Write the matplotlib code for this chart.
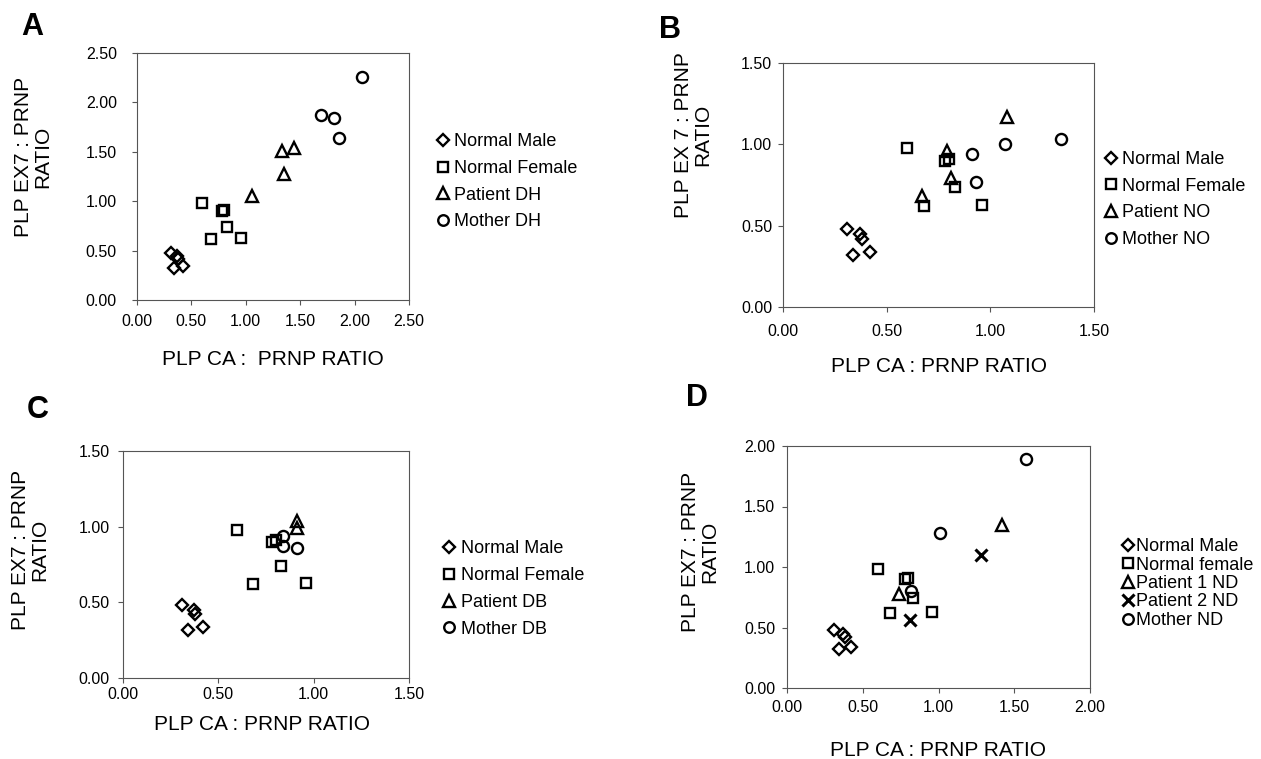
import numpy as np
import matplotlib
matplotlib.use('Agg')
import matplotlib.pyplot as plt
from matplotlib.ticker import FormatStrFormatter

plt.rcParams['font.family'] = ['Liberation Sans', 'DejaVu Sans']

W, H = 1261, 759

# shared control groups (same in every panel)
male_x = [0.31, 0.37, 0.38, 0.34, 0.42]
male_y = [0.48, 0.45, 0.42, 0.32, 0.34]
female_x = [0.60, 0.78, 0.80, 0.83, 0.68, 0.96]
female_y = [0.98, 0.90, 0.91, 0.74, 0.62, 0.63]

# panel A
dh_pat_x = [1.33, 1.44, 1.35, 1.06]
dh_pat_y = [1.51, 1.54, 1.28, 1.05]
dh_mom_x = [2.07, 1.69, 1.81, 1.86]
dh_mom_y = [2.26, 1.87, 1.84, 1.64]

# panel B
no_pat_x = [0.79, 0.81, 0.67, 1.08]
no_pat_y = [0.96, 0.79, 0.68, 1.17]
no_mom_x = [0.91, 0.93, 1.07, 1.34]
no_mom_y = [0.94, 0.77, 1.00, 1.03]

# panel C
db_pat_x = [0.91, 0.91]
db_pat_y = [1.04, 0.99]
db_mom_x = [0.84, 0.84, 0.91]
db_mom_y = [0.94, 0.87, 0.86]

# panel D
nd_pat1_x = [0.74, 1.42]
nd_pat1_y = [0.78, 1.35]
nd_pat2_x = [1.28, 0.81]
nd_pat2_y = [1.10, 0.56]
nd_mom_x = [1.58, 1.01, 0.82]
nd_mom_y = [1.89, 1.28, 0.80]

STYLE = {
    'male': dict(marker='D', ms=6.3),
    'female': dict(marker='s', ms=7.5),
    'patient': dict(marker='^', ms=8.5),
    'patient2': dict(marker='x', ms=8.5, mew=2.2),
    'mother': dict(marker='o', ms=8),
}


def px_box(left, right, top, bottom):
    return [left / W, 1 - bottom / H, (right - left) / W, (bottom - top) / H]


def fx(x):
    return x / W


def fy(y):
    return 1 - y / H


def draw_panel(fig, box, lim, series, ylab, xlab, ylab_pos, xlab_pos,
               xpad, ypad, leg_pos, leg_spacing, leg_tpad, letter, letter_pos):
    ax = fig.add_axes(px_box(*box))
    for x, y, kind, label in series:
        st = dict(mew=1.7, mfc='none', mec='black', ls='none')
        st.update(STYLE[kind])
        if kind == 'patient2':
            st.pop('mfc')
            st['color'] = 'black'
        ax.plot(x, y, label=label, clip_on=False, **st)
    ticks = np.arange(0, lim + 0.01, 0.5)
    ax.set_xlim(0, lim)
    ax.set_ylim(0, lim)
    ax.set_xticks(ticks)
    ax.set_yticks(ticks)
    ax.xaxis.set_major_formatter(FormatStrFormatter('%.2f'))
    ax.yaxis.set_major_formatter(FormatStrFormatter('%.2f'))
    ax.tick_params(direction='out', length=3.6, width=0.8, color='#555555',
                   labelsize=11.5)
    ax.tick_params(axis='x', pad=xpad)
    ax.tick_params(axis='y', pad=ypad)
    for sp in ax.spines.values():
        sp.set_linewidth(0.8)
        sp.set_color('#555555')

    ax.set_xlabel(xlab, fontsize=15, va='center')
    ax.xaxis.set_label_coords(fx(xlab_pos[0]), fy(xlab_pos[1]),
                              transform=fig.transFigure)
    ax.set_ylabel(ylab, fontsize=15, va='center', ha='center',
                  multialignment='center', linespacing=1.0)
    ax.yaxis.set_label_coords(fx(ylab_pos[0]), fy(ylab_pos[1]),
                              transform=fig.transFigure)

    ax.legend(loc='center left', bbox_to_anchor=(fx(leg_pos[0]), fy(leg_pos[1])),
              bbox_transform=fig.transFigure, frameon=False, fontsize=13,
              handlelength=0.7, handletextpad=leg_tpad, labelspacing=leg_spacing,
              borderpad=0, borderaxespad=0, markerscale=0.95)

    fig.text(fx(letter_pos[0]), fy(letter_pos[1]), letter, fontsize=22,
             fontweight='bold', ha='center', va='center')
    return ax


fig = plt.figure(figsize=(W / 100, H / 100), dpi=100)

draw_panel(fig, (137, 409, 53, 300), 2.5,
           [(male_x, male_y, 'male', 'Normal Male'),
            (female_x, female_y, 'female', 'Normal Female'),
            (dh_pat_x, dh_pat_y, 'patient', 'Patient DH'),
            (dh_mom_x, dh_mom_y, 'mother', 'Mother DH')],
           'PLP EX7 : PRNP\nRATIO', 'PLP CA :  PRNP RATIO',
           (33, 157), (273, 359), 6.5, 10.8,
           (436.7, 181.7), 0.54, 0.25, 'A', (32.5, 26.7))

draw_panel(fig, (783, 1094, 63, 307), 1.5,
           [(male_x, male_y, 'male', 'Normal Male'),
            (female_x, female_y, 'female', 'Normal Female'),
            (no_pat_x, no_pat_y, 'patient', 'Patient NO'),
            (no_mom_x, no_mom_y, 'mother', 'Mother NO')],
           'PLP EX 7 : PRNP\nRATIO', 'PLP CA : PRNP RATIO',
           (693, 135), (938.6, 366), 8.6, 4.3,
           (1104.7, 199.5), 0.54, 0.25, 'B', (670, 30))

draw_panel(fig, (123, 409, 451, 678), 1.5,
           [(male_x, male_y, 'male', 'Normal Male'),
            (female_x, female_y, 'female', 'Normal Female'),
            (db_pat_x, db_pat_y, 'patient', 'Patient DB'),
            (db_mom_x, db_mom_y, 'mother', 'Mother DB')],
           'PLP EX7 : PRNP\nRATIO', 'PLP CA : PRNP RATIO',
           (30, 550), (262, 725), 3, 5.8,
           (442.7, 589), 0.54, 0.3, 'C', (38, 410))

draw_panel(fig, (787, 1090, 446, 688), 2.0,
           [(male_x, male_y, 'male', 'Normal Male'),
            (female_x, female_y, 'female', 'Normal female'),
            (nd_pat1_x, nd_pat1_y, 'patient', 'Patient 1 ND'),
            (nd_pat2_x, nd_pat2_y, 'patient2', 'Patient 2 ND'),
            (nd_mom_x, nd_mom_y, 'mother', 'Mother ND')],
           'PLP EX7 : PRNP\nRATIO', 'PLP CA : PRNP RATIO',
           (700, 552), (938.5, 751), 5, 5,
           (1121.7, 583.5), 0.08, 0.08, 'D', (697, 398))

fig.savefig('out.png', dpi=100)
